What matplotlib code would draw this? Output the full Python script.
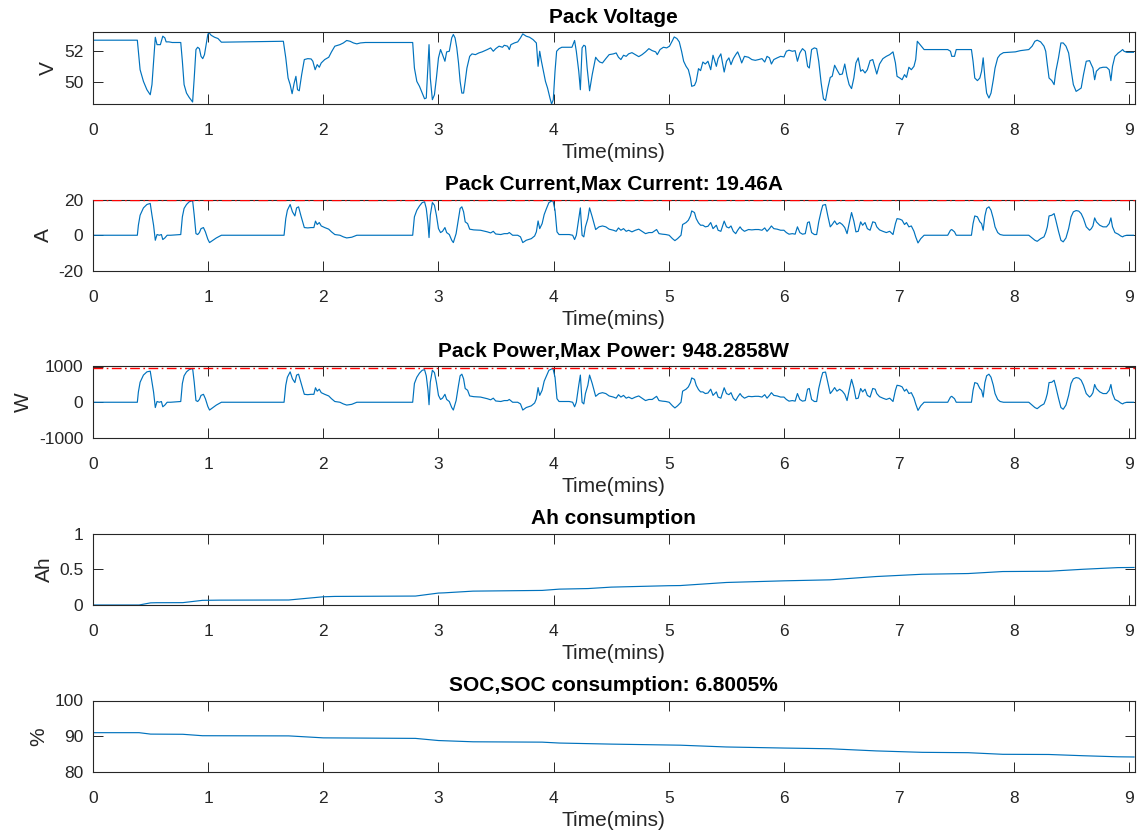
import matplotlib
matplotlib.use("Agg")
import matplotlib.pyplot as plt

plt.rcParams['font.family'] = ['Liberation Sans', 'DejaVu Sans']
plt.rcParams['axes.unicode_minus'] = False

# ---------------- data (time in minutes) ----------------
t_volt = [0.0, 0.385, 0.394, 0.409, 0.438, 0.468, 0.497, 0.512, 0.526, 0.541, 0.556, 0.585,
          0.606, 0.624, 0.635, 0.659, 0.688, 0.762, 0.776, 0.791, 0.812, 0.835, 0.865, 0.879,
          0.894, 0.909, 0.924, 0.938, 0.953, 0.968, 0.982, 0.997, 1.006, 1.026, 1.056, 1.085,
          1.115, 1.653, 1.674, 1.694, 1.712, 1.729, 1.747, 1.762, 1.776, 1.791, 1.812, 1.835,
          1.865, 1.894, 1.909, 1.929, 1.947, 1.965, 1.982, 2.012, 2.047, 2.071, 2.100, 2.144,
          2.174, 2.203, 2.232, 2.262, 2.291, 2.321, 2.365, 2.776, 2.791, 2.812, 2.835, 2.859,
          2.879, 2.894, 2.909, 2.918, 2.929, 2.947, 2.965, 2.982, 3.000, 3.018, 3.035, 3.056,
          3.071, 3.094, 3.115, 3.129, 3.144, 3.159, 3.174, 3.188, 3.203, 3.218, 3.232, 3.247,
          3.271, 3.291, 3.321, 3.350, 3.379, 3.424, 3.453, 3.476, 3.497, 3.526, 3.556, 3.571,
          3.600, 3.615, 3.629, 3.659, 3.688, 3.712, 3.732, 3.762, 3.791, 3.821, 3.850, 3.865,
          3.879, 3.894, 3.909, 3.929, 3.947, 3.968, 3.982, 3.997, 4.012, 4.026, 4.047, 4.071,
          4.129, 4.159, 4.182, 4.197, 4.218, 4.232, 4.247, 4.262, 4.276, 4.291, 4.312, 4.335,
          4.365, 4.379, 4.400, 4.424, 4.453, 4.482, 4.519, 4.543, 4.563, 4.584, 4.607, 4.630,
          4.651, 4.680, 4.710, 4.739, 4.768, 4.798, 4.827, 4.856, 4.886, 4.900, 4.924, 4.953,
          4.982, 5.006, 5.032, 5.047, 5.070, 5.091, 5.111, 5.129, 5.150, 5.170, 5.188, 5.199,
          5.223, 5.238, 5.258, 5.276, 5.296, 5.317, 5.340, 5.364, 5.384, 5.413, 5.428, 5.452,
          5.481, 5.501, 5.522, 5.540, 5.560, 5.581, 5.598, 5.619, 5.633, 5.657, 5.692, 5.721,
          5.751, 5.780, 5.809, 5.833, 5.853, 5.874, 5.891, 5.912, 5.941, 5.971, 6.000, 6.021,
          6.044, 6.073, 6.097, 6.117, 6.138, 6.161, 6.185, 6.205, 6.220, 6.240, 6.264, 6.284,
          6.302, 6.323, 6.343, 6.361, 6.381, 6.402, 6.419, 6.440, 6.460, 6.484, 6.507, 6.528,
          6.548, 6.566, 6.587, 6.607, 6.625, 6.645, 6.666, 6.683, 6.704, 6.724, 6.748, 6.771,
          6.792, 6.806, 6.830, 6.859, 6.889, 6.918, 6.947, 6.968, 6.982, 7.006, 7.026, 7.047,
          7.064, 7.085, 7.106, 7.129, 7.144, 7.158, 7.182, 7.217, 7.422, 7.446, 7.457, 7.481,
          7.496, 7.628, 7.642, 7.657, 7.680, 7.701, 7.716, 7.730, 7.745, 7.760, 7.780, 7.798,
          7.818, 7.833, 7.856, 7.877, 7.906, 8.009, 8.053, 8.126, 8.155, 8.179, 8.199, 8.229,
          8.258, 8.273, 8.287, 8.302, 8.326, 8.346, 8.361, 8.384, 8.405, 8.425, 8.449, 8.472,
          8.493, 8.513, 8.537, 8.560, 8.581, 8.601, 8.625, 8.654, 8.669, 8.683, 8.698, 8.713,
          8.742, 8.771, 8.801, 8.824, 8.839, 8.853, 8.874, 8.903, 8.924, 8.941, 8.953, 8.977,
          9.035]
pack_voltage = [52.72, 52.72, 52.00, 50.80, 50.04, 49.50, 49.17, 49.83, 51.35, 52.91, 52.43, 52.43,
                52.98, 52.87, 52.61, 52.61, 52.57, 52.57, 51.35, 49.83, 49.28, 49.00, 48.70, 50.26,
                52.11, 52.26, 52.17, 51.67, 51.52, 51.78, 52.43, 53.09, 53.22, 53.04, 52.91, 52.83,
                52.59, 52.65, 51.57, 50.26, 49.83, 49.24, 49.93, 50.37, 49.50, 49.43, 50.48, 51.46,
                51.52, 51.50, 51.35, 50.80, 51.13, 50.96, 51.24, 51.46, 51.61, 51.96, 52.33, 52.43,
                52.54, 52.70, 52.65, 52.54, 52.48, 52.54, 52.57, 52.57, 50.91, 50.04, 49.72, 49.28,
                48.91, 48.96, 51.13, 52.43, 50.26, 48.85, 49.17, 50.26, 51.57, 52.11, 51.78, 51.35,
                51.96, 52.00, 52.87, 53.09, 52.87, 52.22, 51.24, 50.04, 49.28, 49.28, 50.04, 50.91,
                51.67, 51.83, 51.78, 51.89, 51.96, 52.11, 52.22, 52.00, 52.17, 52.33, 52.26, 52.39,
                52.33, 52.11, 52.43, 52.54, 52.61, 52.87, 53.13, 52.98, 52.91, 52.76, 52.54, 51.02,
                52.00, 51.35, 50.80, 50.04, 49.61, 48.96, 48.57, 48.85, 50.70, 52.00, 52.17, 52.26,
                52.26, 52.26, 52.70, 52.00, 50.70, 49.50, 52.22, 52.39, 52.33, 50.91, 49.43, 50.48,
                51.61, 51.46, 51.30, 51.24, 51.52, 51.78, 51.83, 51.89, 51.61, 51.46, 51.74, 51.67,
                51.83, 51.91, 51.78, 51.65, 51.78, 51.96, 52.17, 52.04, 51.96, 51.78, 52.11, 52.26,
                52.22, 52.33, 52.70, 52.93, 52.83, 52.61, 52.00, 51.35, 51.02, 50.80, 50.26, 49.72,
                49.78, 50.04, 50.87, 50.74, 51.30, 51.17, 51.35, 50.80, 51.74, 51.02, 51.52, 51.83,
                50.65, 51.35, 51.57, 51.13, 51.52, 51.78, 51.96, 51.57, 51.24, 51.67, 51.61, 51.46,
                51.41, 51.46, 51.52, 51.30, 51.67, 51.57, 51.17, 51.46, 51.57, 51.67, 51.63, 52.00,
                52.07, 52.00, 52.04, 51.35, 51.89, 52.17, 52.00, 51.02, 50.91, 52.11, 52.22, 52.17,
                51.35, 49.93, 48.91, 48.80, 49.61, 50.30, 50.37, 51.09, 50.80, 50.48, 50.52, 51.17,
                50.37, 49.83, 49.57, 50.26, 51.24, 51.57, 50.70, 50.80, 50.59, 50.80, 51.39, 51.46,
                50.91, 50.52, 51.17, 51.52, 51.67, 51.78, 51.96, 51.24, 50.37, 50.26, 50.15, 50.48,
                50.30, 50.96, 50.80, 51.02, 51.46, 52.65, 52.43, 52.11, 52.11, 52.00, 51.67, 51.67,
                52.11, 52.11, 51.35, 50.26, 50.09, 50.26, 50.70, 51.57, 50.26, 49.28, 48.96, 49.28,
                50.15, 50.91, 51.57, 51.78, 51.91, 51.96, 52.04, 52.11, 52.33, 52.65, 52.72, 52.61,
                52.33, 52.00, 51.13, 50.26, 50.09, 49.83, 50.70, 51.57, 52.54, 52.54, 52.33, 51.89,
                50.80, 49.83, 49.39, 49.50, 49.61, 50.48, 51.35, 51.39, 51.13, 50.91, 50.15, 50.70,
                50.91, 50.96, 50.96, 50.80, 50.09, 51.02, 51.67, 51.89, 52.00, 52.11, 52.00, 51.93,
                51.93]

t_cur = [0.0, 0.385, 0.394, 0.409, 0.438, 0.468, 0.497, 0.512, 0.526, 0.541, 0.556, 0.576,
         0.594, 0.606, 0.624, 0.644, 0.674, 0.762, 0.776, 0.791, 0.812, 0.835, 0.865, 0.879,
         0.894, 0.909, 0.924, 0.938, 0.959, 0.976, 0.997, 1.012, 1.041, 1.071, 1.115, 1.659,
         1.674, 1.688, 1.712, 1.732, 1.753, 1.768, 1.785, 1.806, 1.835, 1.865, 1.894, 1.918,
         1.932, 1.947, 1.965, 1.982, 2.012, 2.047, 2.071, 2.100, 2.144, 2.174, 2.203, 2.247,
         2.291, 2.776, 2.791, 2.812, 2.835, 2.859, 2.879, 2.894, 2.909, 2.918, 2.929, 2.947,
         2.965, 2.982, 3.000, 3.018, 3.035, 3.056, 3.071, 3.094, 3.115, 3.129, 3.153, 3.174,
         3.188, 3.203, 3.218, 3.232, 3.253, 3.271, 3.306, 3.365, 3.424, 3.453, 3.476, 3.497,
         3.541, 3.571, 3.600, 3.615, 3.644, 3.688, 3.712, 3.732, 3.762, 3.806, 3.835, 3.850,
         3.865, 3.879, 3.900, 3.918, 3.938, 3.959, 3.976, 3.994, 4.012, 4.029, 4.047, 4.135,
         4.165, 4.182, 4.197, 4.218, 4.232, 4.247, 4.262, 4.276, 4.297, 4.312, 4.335, 4.365,
         4.394, 4.424, 4.453, 4.482, 4.519, 4.543, 4.563, 4.584, 4.607, 4.630, 4.651, 4.680,
         4.710, 4.739, 4.768, 4.798, 4.827, 4.856, 4.894, 4.915, 4.944, 4.974, 5.003, 5.032,
         5.053, 5.076, 5.106, 5.120, 5.150, 5.170, 5.188, 5.199, 5.223, 5.238, 5.258, 5.276,
         5.296, 5.317, 5.340, 5.364, 5.384, 5.413, 5.428, 5.452, 5.481, 5.501, 5.522, 5.540,
         5.560, 5.581, 5.598, 5.619, 5.633, 5.657, 5.692, 5.721, 5.751, 5.780, 5.809, 5.833,
         5.853, 5.874, 5.891, 5.912, 5.941, 5.971, 6.000, 6.021, 6.044, 6.073, 6.097, 6.117,
         6.138, 6.161, 6.185, 6.205, 6.220, 6.240, 6.264, 6.284, 6.302, 6.323, 6.337, 6.361,
         6.381, 6.402, 6.419, 6.440, 6.460, 6.484, 6.507, 6.528, 6.548, 6.566, 6.587, 6.607,
         6.625, 6.645, 6.666, 6.683, 6.704, 6.724, 6.748, 6.771, 6.792, 6.806, 6.830, 6.859,
         6.889, 6.918, 6.947, 6.968, 6.982, 7.006, 7.026, 7.047, 7.064, 7.085, 7.106, 7.129,
         7.144, 7.164, 7.188, 7.217, 7.422, 7.446, 7.457, 7.481, 7.496, 7.628, 7.642, 7.657,
         7.680, 7.701, 7.716, 7.730, 7.745, 7.760, 7.780, 7.798, 7.818, 7.833, 7.856, 7.877,
         7.906, 8.126, 8.155, 8.179, 8.199, 8.229, 8.258, 8.273, 8.287, 8.302, 8.326, 8.346,
         8.361, 8.384, 8.405, 8.425, 8.449, 8.472, 8.493, 8.513, 8.537, 8.560, 8.581, 8.601,
         8.625, 8.654, 8.669, 8.683, 8.698, 8.713, 8.742, 8.771, 8.801, 8.824, 8.839, 8.853,
         8.874, 8.903, 8.924, 8.941, 8.953, 8.977, 9.035]
pack_current = [0.0, 0.0, 5.6, 11.2, 15.3, 17.2, 17.8, 11.2, 5.6, -2.8, 0.4, 0.0,
                0.4, -2.4, -1.5, 0.0, 0.0, 0.4, 10.3, 15.0, 17.2, 18.7, 19.4, 11.2,
                0.9, 0.4, 1.5, 3.7, 4.3, 1.9, -2.2, -4.1, -2.8, -1.5, 0.0, 0.0,
                9.3, 14.0, 17.2, 13.1, 10.8, 15.3, 15.9, 10.8, 4.3, 4.1, 4.3, 4.3,
                7.9, 6.0, 7.1, 5.2, 4.3, 3.4, 1.9, 0.4, 0.0, -0.9, -1.5, -1.1,
                0.0, 0.0, 10.3, 14.0, 16.4, 18.3, 18.7, 15.0, 6.5, -1.3, 11.2, 18.3,
                16.8, 11.2, 3.7, 1.5, 2.2, 4.3, 1.5, 0.4, -2.8, -4.1, 0.9, 9.3,
                15.0, 15.9, 13.1, 7.5, 6.5, 3.4, 3.0, 2.8, 1.9, 1.3, 2.2, 0.7,
                0.4, 0.9, 0.9, 1.5, 0.0, 0.0, -0.9, -4.1, -2.8, -1.9, -0.4, 1.9,
                8.0, 3.7, 6.5, 11.6, 15.0, 18.3, 18.9, 19.46, 14.0, 1.9, 0.4, 0.4,
                0.0, -2.4, 0.0, 9.3, 15.3, 0.0, -0.9, 4.7, 9.3, 15.3, 10.3, 3.2,
                4.7, 5.2, 4.7, 3.4, 2.8, 2.2, 4.1, 2.8, 3.7, 2.2, 2.8, 1.9,
                2.8, 3.4, 2.2, 0.9, 1.5, 1.5, 3.2, 0.9, 0.6, 0.4, 0.0, -1.9,
                -3.0, -1.9, 0.0, 6.0, 7.1, 8.4, 10.8, 13.6, 12.7, 9.3, 6.9, 5.6,
                5.6, 4.7, 5.0, 7.1, 3.7, 5.6, 2.8, 2.2, 7.9, 4.7, 4.1, 5.2,
                2.2, 0.9, 2.8, 4.7, 3.4, 2.2, 3.2, 3.0, 3.2, 3.2, 2.8, 4.1,
                2.2, 3.7, 5.2, 3.7, 3.4, 2.8, 2.8, 1.5, 0.6, 0.9, 0.6, 4.7,
                1.5, 0.6, 0.9, 7.1, 7.5, 1.5, 0.4, 0.4, 7.5, 13.5, 16.8, 17.2,
                10.8, 4.7, 6.0, 8.0, 6.0, 7.1, 6.0, 4.3, 0.9, 6.5, 12.7, 7.9,
                1.9, 2.2, 7.5, 5.6, 7.1, 3.7, 2.8, 7.5, 7.1, 4.7, 3.0, 2.2,
                1.5, 2.2, 0.4, 6.5, 9.3, 9.0, 8.4, 6.0, 7.1, 4.7, 5.2, 2.2,
                -0.9, -4.3, -1.9, 0.0, 0.0, 2.8, 3.2, 1.9, 0.0, 0.0, 6.5, 10.8,
                10.3, 7.5, 6.5, 2.8, 10.8, 15.0, 15.9, 14.0, 9.3, 4.7, 1.5, 0.4,
                0.0, 0.0, -1.5, -2.8, -3.4, -1.9, -0.9, 1.5, 4.7, 10.8, 11.2, 12.1,
                8.4, 2.2, -2.8, -3.7, -1.5, 3.7, 10.3, 13.1, 13.8, 13.5, 12.1, 9.3,
                4.7, 2.8, 3.7, 5.2, 9.7, 7.5, 5.6, 4.7, 4.7, 6.5, 9.7, 4.7,
                1.5, 0.6, -0.4, -0.9, -0.4, 0.0, 0.0]
pack_power = [0, 0, 285, 560, 760, 850, 870, 560, 285, -148, 21, 0,
              21, -127, -79, 0, 0, 21, 525, 740, 850, 912, 945, 560,
              47, 21, 78, 192, 222, 99, -117, -218, -148, -79, 0, 0,
              475, 700, 850, 655, 550, 760, 785, 550, 222, 212, 222, 222,
              405, 310, 365, 268, 222, 176, 99, 21, 0, -47, -79, -58,
              0, 0, 525, 700, 815, 895, 912, 740, 335, -69, 560, 895,
              830, 560, 192, 78, 114, 222, 78, 21, -148, -218, 47, 475,
              740, 785, 655, 385, 335, 176, 156, 145, 99, 68, 114, 36,
              21, 47, 47, 78, 0, 0, -47, -218, -148, -100, -21, 99,
              410, 192, 335, 590, 740, 895, 922, 948.2858, 700, 99, 21, 21,
              0, -127, 0, 475, 760, 0, -47, 243, 475, 760, 525, 166,
              243, 268, 243, 176, 145, 114, 212, 145, 192, 114, 145, 99,
              145, 176, 114, 47, 78, 78, 166, 47, 31, 21, 0, -100,
              -159, -100, 0, 310, 365, 430, 550, 680, 640, 475, 355, 290,
              290, 243, 258, 365, 192, 290, 145, 114, 405, 243, 212, 268,
              114, 47, 145, 243, 176, 114, 166, 156, 166, 166, 145, 212,
              114, 192, 268, 192, 176, 145, 145, 78, 31, 47, 31, 243,
              78, 31, 47, 365, 385, 78, 21, 21, 385, 675, 830, 845,
              550, 243, 310, 410, 310, 365, 310, 222, 47, 335, 640, 405,
              99, 114, 385, 290, 365, 192, 145, 385, 365, 243, 156, 114,
              78, 114, 21, 335, 475, 460, 430, 310, 365, 243, 268, 114,
              -47, -228, -100, 0, 0, 145, 166, 99, 0, 0, 335, 550,
              525, 385, 335, 145, 550, 740, 785, 700, 475, 243, 78, 21,
              0, 0, -79, -148, -180, -100, -47, 78, 243, 550, 560, 615,
              430, 114, -148, -196, -79, 192, 525, 655, 690, 675, 615, 475,
              243, 145, 192, 268, 497, 385, 290, 243, 243, 335, 497, 243,
              78, 31, -21, -47, -21, 0, 0]

t_ah = [0.0, 0.40, 0.50, 0.55, 0.78, 0.95, 1.10, 1.70, 2.00, 2.10, 2.80, 3.00, 3.05,
        3.30, 3.90, 4.05, 4.30, 4.50, 5.00, 5.10, 5.50, 6.00, 6.40, 6.80, 7.20, 7.60,
        7.90, 8.30, 8.60, 8.90, 9.04]
ah_used = [0.0, 0.0, 0.030, 0.032, 0.033, 0.065, 0.068, 0.070, 0.115, 0.120, 0.125, 0.167, 0.170,
           0.194, 0.204, 0.222, 0.230, 0.250, 0.270, 0.272, 0.315, 0.338, 0.352, 0.398, 0.430, 0.440,
           0.468, 0.472, 0.500, 0.523, 0.525]

t_soc = [0.0, 0.40, 0.50, 0.78, 0.95, 1.70, 2.00, 2.80, 3.00, 3.30, 3.90, 4.05, 4.50,
         5.00, 5.10, 5.50, 6.00, 6.40, 6.80, 7.20, 7.60, 7.90, 8.30, 8.60, 8.90, 9.04]
soc = [91.0, 91.0, 90.6, 90.55, 90.15, 90.1, 89.55, 89.4, 88.8, 88.45, 88.35, 88.1, 87.8,
       87.55, 87.5, 87.0, 86.7, 86.5, 85.9, 85.5, 85.4, 84.95, 84.9, 84.55, 84.25, 84.1995]

time_ticks = list(range(10))

# ---------------- figure ----------------
LINE = '#0072BD'
AXC = '#262626'
FIG_W, FIG_H = 1138, 835
LABEL_FS = 15
TITLE_FS = 15

fig = plt.figure(figsize=(FIG_W / 100, FIG_H / 100), dpi=100)

left = 93 / FIG_W
width = 1041.5 / FIG_W
height = 71.5 / FIG_H
bottoms_px = [104, 271, 438, 605, 772]


def make_axes(i):
    ax = fig.add_axes([left, 1 - bottoms_px[i] / FIG_H, width, height])
    ax.set_xlim(0, 9.044)
    ax.set_xticks(time_ticks)
    ax.tick_params(axis='both', which='both', direction='in', length=7.2, width=0.7,
                   colors=AXC, labelsize=12.5, top=True, right=True)
    ax.tick_params(axis='x', pad=14)
    ax.tick_params(axis='y', pad=7)
    for s in ax.spines.values():
        s.set_color(AXC)
        s.set_linewidth(0.8)
    ax.set_xlabel('Time(mins)', fontsize=LABEL_FS, color=AXC, labelpad=3)
    return ax


def set_title(ax, text):
    ax.set_title(text, fontsize=TITLE_FS, fontweight='bold', color='black', pad=7)


def peak_line(ax, value):
    ax.axhline(value, color='red', lw=1.0, ls=(0, (7, 2.5, 1.2, 2.5)), zorder=3)


# Pack voltage
ax = make_axes(0)
ax.plot(t_volt, pack_voltage, color=LINE, lw=0.85)
ax.set_ylim(min(pack_voltage), max(pack_voltage))
ax.set_yticks([50, 52])
ax.set_ylabel('V', fontsize=LABEL_FS, color=AXC, labelpad=4)
set_title(ax, 'Pack Voltage')

# Pack current with its peak marked
ax = make_axes(1)
i_max = max(pack_current)
ax.plot(t_cur, pack_current, color=LINE, lw=0.85)
peak_line(ax, i_max)
ax.set_ylim(-20, 20)
ax.set_yticks([-20, 0, 20])
ax.set_ylabel('A', fontsize=LABEL_FS, color=AXC, labelpad=4)
set_title(ax, f'Pack Current,Max Current: {i_max:.2f}A')

# Pack power with its peak marked
ax = make_axes(2)
p_max = max(pack_power)
ax.plot(t_cur, pack_power, color=LINE, lw=0.85)
peak_line(ax, p_max)
ax.set_ylim(-1000, 1000)
ax.set_yticks([-1000, 0, 1000])
ax.set_ylabel('W', fontsize=LABEL_FS, color=AXC, labelpad=4)
set_title(ax, f'Pack Power,Max Power: {p_max:.4f}W')

# Charge drawn
ax = make_axes(3)
ax.plot(t_ah, ah_used, color=LINE, lw=0.85)
ax.set_ylim(0, 1)
ax.set_yticks([0, 0.5, 1])
ax.set_yticklabels(['0', '0.5', '1'])
ax.set_ylabel('Ah', fontsize=LABEL_FS, color=AXC, labelpad=4)
set_title(ax, 'Ah consumption')

# State of charge
ax = make_axes(4)
ax.plot(t_soc, soc, color=LINE, lw=0.85)
ax.set_ylim(80, 100)
ax.set_yticks([80, 90, 100])
ax.set_ylabel('%', fontsize=LABEL_FS, color=AXC, labelpad=4)
set_title(ax, f'SOC,SOC consumption: {soc[0] - soc[-1]:.4f}%')

fig.savefig('out.png', dpi=100, facecolor='white')
